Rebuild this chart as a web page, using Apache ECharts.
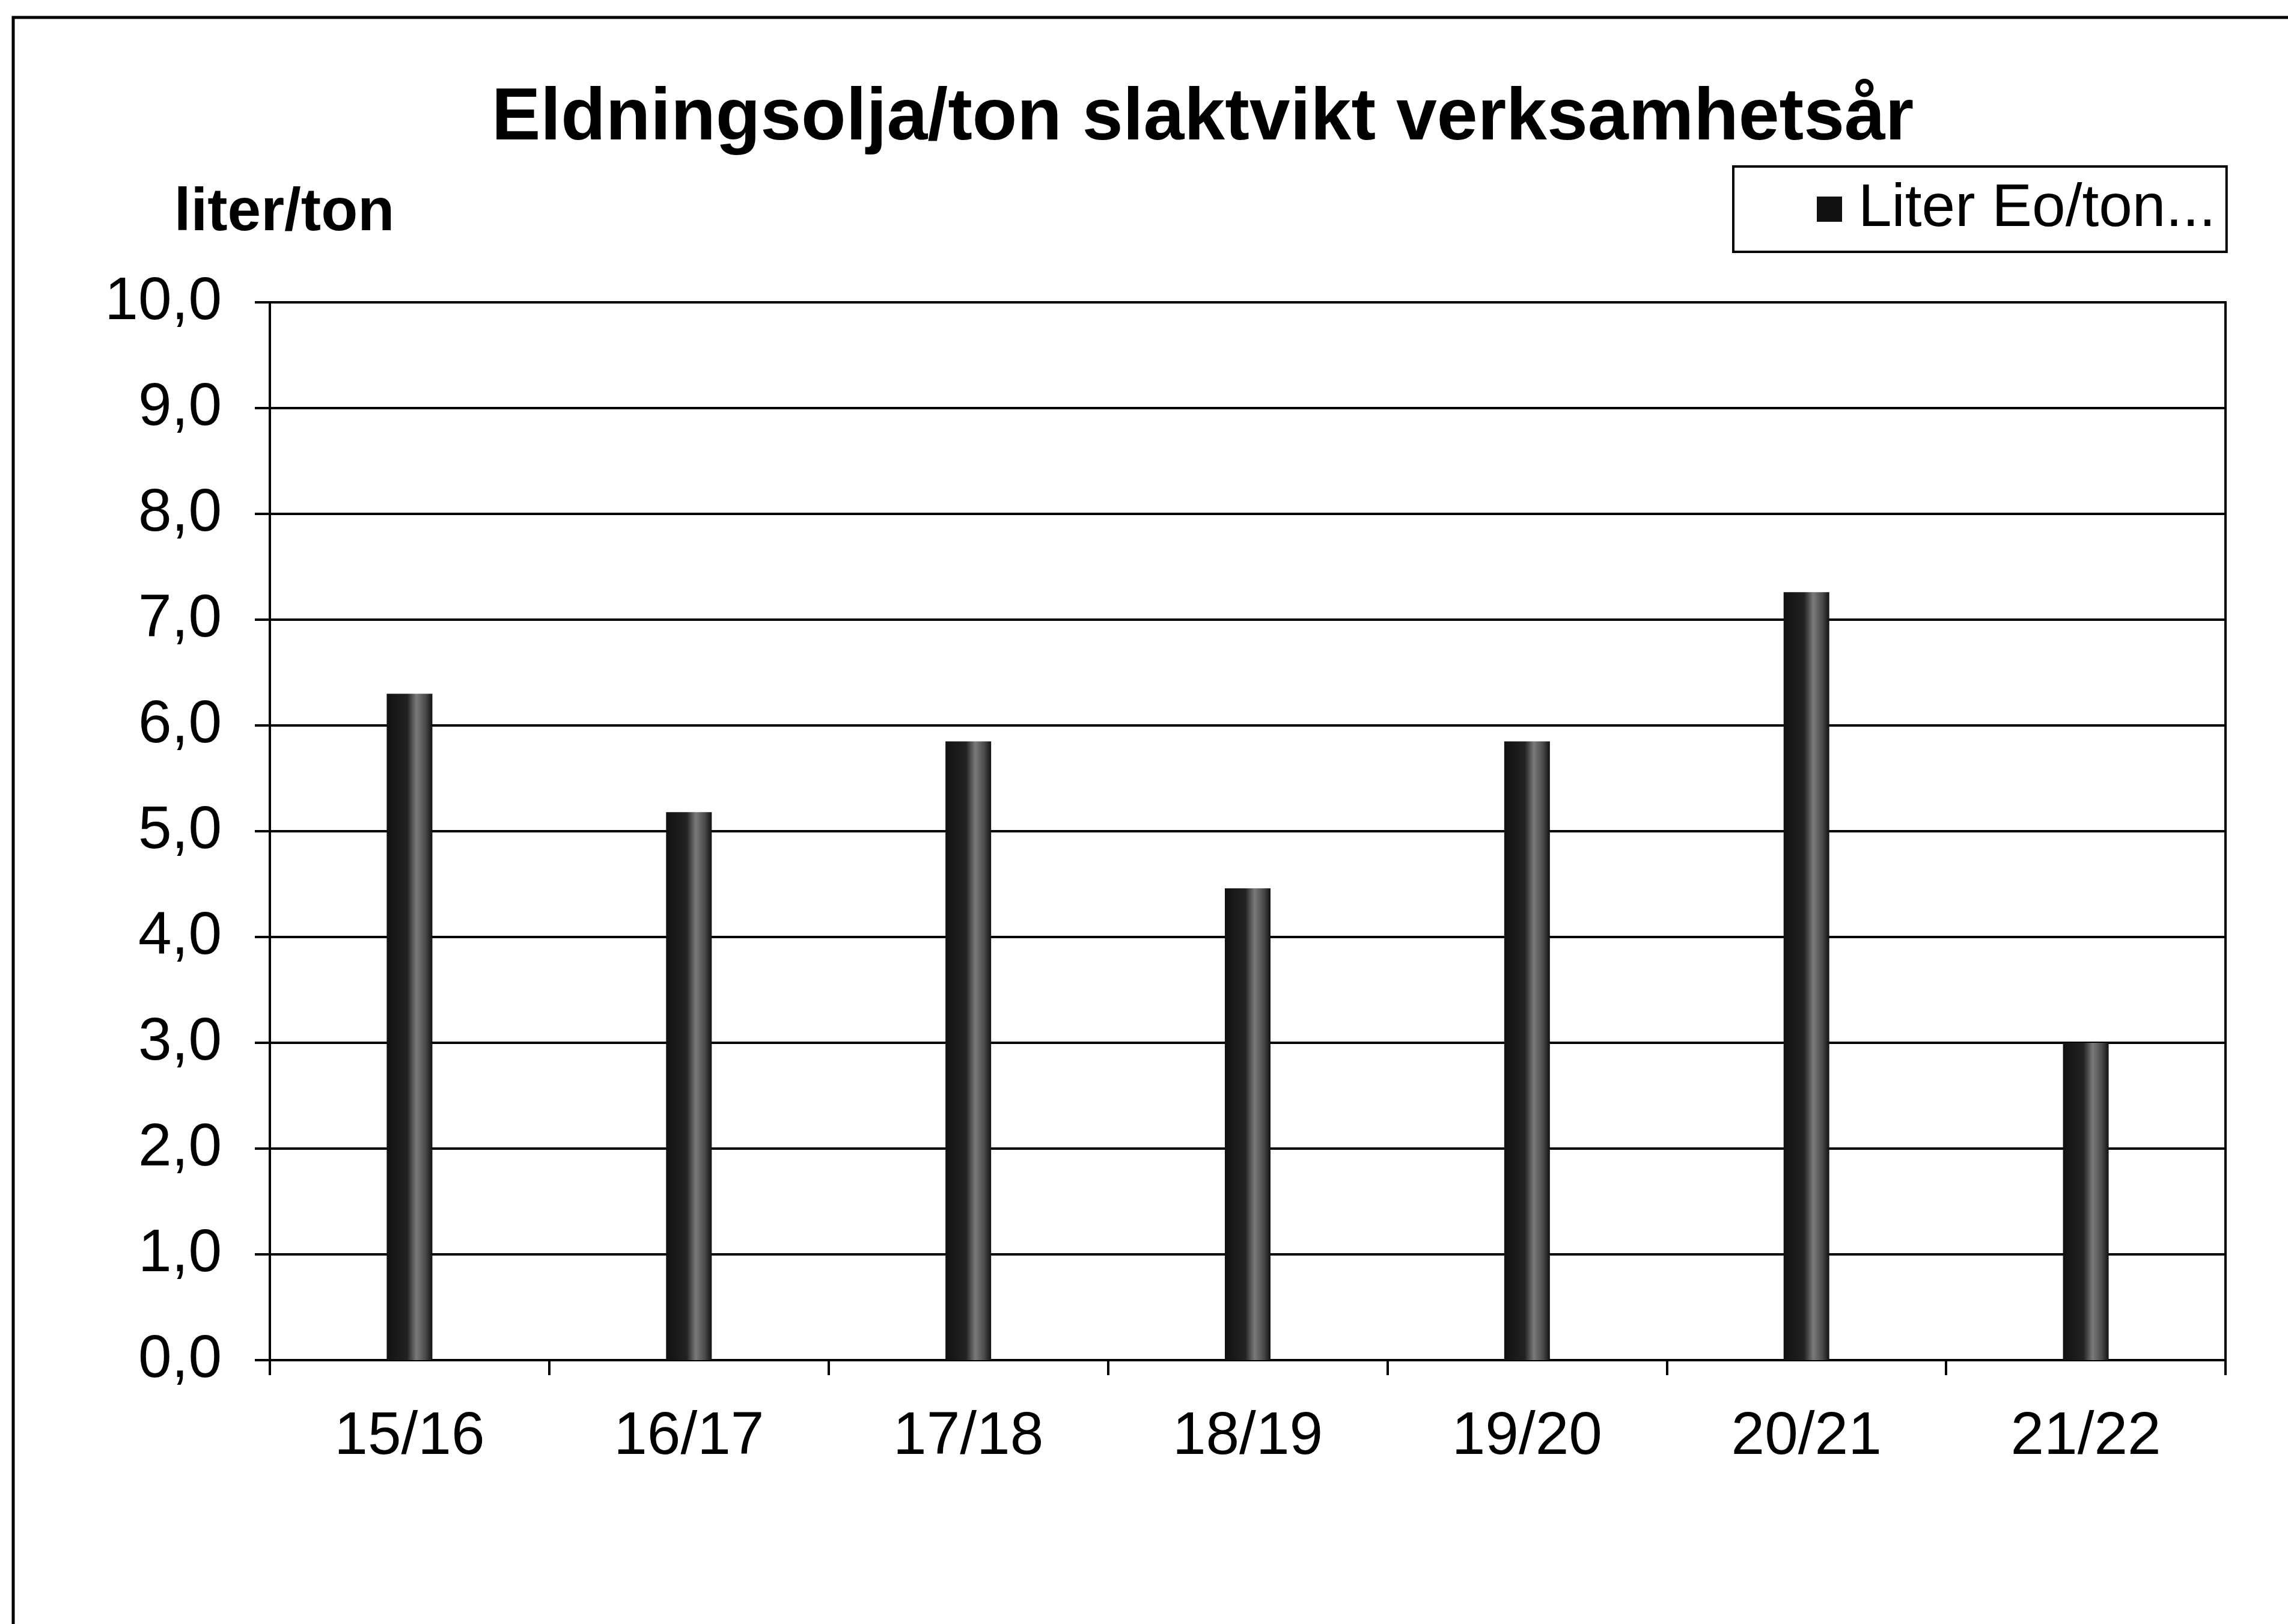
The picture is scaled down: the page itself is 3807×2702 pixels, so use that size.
<!DOCTYPE html>
<html>
<head>
<meta charset="utf-8">
<script src="https://cdn.jsdelivr.net/npm/echarts@6/dist/echarts.min.js"></script>
<style>
html,body{margin:0;padding:0;background:#fff;}
#chart{width:3807px;height:2702px;}
</style>
</head>
<body>
<div id="chart"></div>
<script>
const titleText = 'Eldningsolja/ton slaktvikt verksamhetsår';
const yAxisName = 'liter/ton';
const seriesName = 'Liter Eo/ton...';
const categories = ['15/16', '16/17', '17/18', '18/19', '19/20', '20/21', '21/22'];
const values = [6.30, 5.18, 5.85, 4.46, 5.85, 7.26, 3.00];
const yTickLabels = ['0,0', '1,0', '2,0', '3,0', '4,0', '5,0', '6,0', '7,0', '8,0', '9,0', '10,0'];

const FONT = '"Liberation Sans", Arial, sans-serif';
const chart = echarts.init(document.getElementById('chart'), null, {renderer: 'canvas'});

const barColor = new echarts.graphic.LinearGradient(0, 0, 1, 0, [
  {offset: 0, color: '#111'},
  {offset: 0.45, color: '#222'},
  {offset: 0.65, color: '#7a7a7a'},
  {offset: 0.85, color: '#4a4a4a'},
  {offset: 1, color: '#111'}
]);

chart.setOption({
  backgroundColor: '#fff',
  animation: false,
  title: {
    text: titleText,
    left: 813,
    top: 132,
    textStyle: {fontFamily: FONT, fontSize: 122, fontWeight: 'bold', color: '#000'}
  },
  legend: {
    left: 2884,
    top: 277,
    padding: [14, 18, 14, 139],
    borderColor: '#000',
    borderWidth: 4,
    itemWidth: 42,
    itemHeight: 42,
    icon: 'rect',
    itemStyle: {color: '#111'},
    textStyle: {fontFamily: FONT, fontSize: 100, color: '#000', padding: [14, 0, 0, 22], lineHeight: 100},
    data: [seriesName]
  },
  graphic: [{
    type: 'rect',
    shape: {x: 22, y: 29, width: 5000, height: 5000},
    style: {fill: 'none', stroke: '#000', lineWidth: 5},
    silent: true
  }],
  grid: {
    left: 449,
    right: 104,
    top: 503,
    bottom: 439,
    show: true,
    borderColor: '#000',
    borderWidth: 4,
    containLabel: false
  },
  xAxis: {
    type: 'category',
    data: categories,
    boundaryGap: true,
    axisLine: {show: true, lineStyle: {color: '#000', width: 4}},
    axisTick: {show: true, length: 25, lineStyle: {color: '#000', width: 4}},
    axisLabel: {fontFamily: FONT, fontSize: 100, color: '#000', margin: 78}
  },
  yAxis: {
    type: 'value',
    min: 0,
    max: 10,
    interval: 1,
    name: yAxisName,
    nameLocation: 'end',
    nameGap: 98,
    nameTextStyle: {fontFamily: FONT, fontSize: 100, fontWeight: 'bold', color: '#000', align: 'center', padding: [0, 0, 0, 48]},
    axisLine: {show: true, lineStyle: {color: '#000', width: 4}},
    axisTick: {show: true, length: 25, lineStyle: {color: '#000', width: 4}},
    axisLabel: {fontFamily: FONT, fontSize: 100, color: '#000', margin: 80,
      formatter: function (v) { return yTickLabels[Math.round(v)]; }},
    splitLine: {show: true, lineStyle: {color: '#000', width: 4}}
  },
  series: [{
    name: seriesName,
    type: 'bar',
    data: values,
    barWidth: 76,
    itemStyle: {color: barColor}
  }]
});
</script>
</body>
</html>
